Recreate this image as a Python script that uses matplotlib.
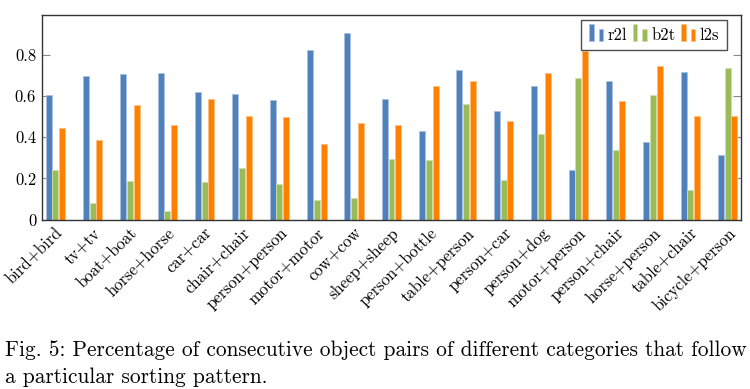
import numpy as np
import matplotlib
matplotlib.use("Agg")
import matplotlib.pyplot as plt
from matplotlib.legend_handler import HandlerBase
from matplotlib.patches import Rectangle

plt.rcParams['font.family'] = 'serif'
plt.rcParams['font.serif'] = ['cmr10']
plt.rcParams['mathtext.fontset'] = 'cm'
plt.rcParams['axes.formatter.use_mathtext'] = True

categories = ["bird+bird", "tv+tv", "boat+boat", "horse+horse", "car+car", "chair+chair",
              "person+person", "motor+motor", "cow+cow", "sheep+sheep", "person+bottle",
              "table+person", "person+car", "person+dog", "motor+person", "person+chair",
              "horse+person", "table+chair", "bicycle+person"]
r2l = [0.604, 0.696, 0.707, 0.712, 0.621, 0.612, 0.581, 0.822, 0.905, 0.586, 0.432,
       0.725, 0.528, 0.650, 0.241, 0.672, 0.376, 0.718, 0.313]
b2t = [0.243, 0.081, 0.188, 0.044, 0.184, 0.252, 0.173, 0.094, 0.104, 0.295, 0.290,
       0.560, 0.193, 0.416, 0.688, 0.337, 0.604, 0.146, 0.735]
l2s = [0.444, 0.387, 0.558, 0.461, 0.586, 0.503, 0.499, 0.367, 0.469, 0.458, 0.647,
       0.672, 0.479, 0.711, 0.819, 0.576, 0.746, 0.503, 0.503]
series_names = ["r2l", "b2t", "l2s"]
yticks = [0, 0.2, 0.4, 0.6, 0.8]
ytick_labels = ["0", "0.2", "0.4", "0.6", "0.8"]

colors = ["#4f81bd", "#9bbb59", "#ff8000"]
edges = ["#a9c1e0", "#cfe0b0", "#ffc080"]

fig = plt.figure(figsize=(7.5, 3.89), dpi=100)
ax = fig.add_axes([0.0556, 0.4352, 0.9324, 0.5255])

x = np.arange(len(categories))
w = 0.16
off = 0.18
handles = []
for i, (vals, c, e, name) in enumerate(zip([r2l, b2t, l2s], colors, edges, series_names)):
    b = ax.bar(x + (i - 1) * off, vals, width=w, color=c, edgecolor=e, linewidth=0.6, label=name, zorder=2)
    handles.append(b)

ax.set_xlim(-0.364, len(categories) - 1 + 0.356)
ax.set_ylim(0, 0.992)
ax.set_yticks(yticks)
ax.set_yticklabels(ytick_labels)
ax.set_xticks(x)
ax.set_xticklabels(categories, rotation=45, ha='right', va='top', rotation_mode='anchor')
ax.tick_params(axis='y', direction='in', length=6, color='#888888', labelsize=12, right=True, pad=4)
ax.tick_params(axis='x', direction='in', length=0, labelsize=12, pad=4)
for s in ax.spines.values():
    s.set_color('#333333')
    s.set_linewidth(1.0)


class TwoBarHandler(HandlerBase):
    def __init__(self, color, edge):
        super().__init__()
        self.color = color
        self.edge = edge

    def create_artists(self, legend, orig_handle, xdescent, ydescent, width, height, fontsize, trans):
        bw = width * 0.3
        r1 = Rectangle((-xdescent + width * 0.02, -ydescent - height * 0.1), bw, height * 1.45,
                       facecolor=self.color, edgecolor=self.edge, lw=0.5, transform=trans)
        r2 = Rectangle((-xdescent + width * 0.62, -ydescent - height * 0.1), bw, height * 1.0,
                       facecolor=self.color, edgecolor=self.edge, lw=0.5, transform=trans)
        return [r1, r2]


leg = ax.legend(handles, series_names, loc='upper right', bbox_to_anchor=(0.98, 0.977),
                ncol=3, frameon=True, fancybox=False, edgecolor='#222222', fontsize=12,
                handlelength=0.95, handletextpad=0.2, columnspacing=0.3, borderpad=0.45,
                borderaxespad=0,
                handler_map={h: TwoBarHandler(c, e) for h, c, e in zip(handles, colors, edges)})
leg.get_frame().set_linewidth(1.0)

fig.text(0.007, 0.100, "Fig. 5: Percentage of consecutive object pairs of different categories that follow",
         fontsize=15.4, va='center', ha='left')
fig.text(0.007, 0.031, "a particular sorting pattern.", fontsize=15.4, va='center', ha='left')

fig.savefig("out.png", dpi=100)
